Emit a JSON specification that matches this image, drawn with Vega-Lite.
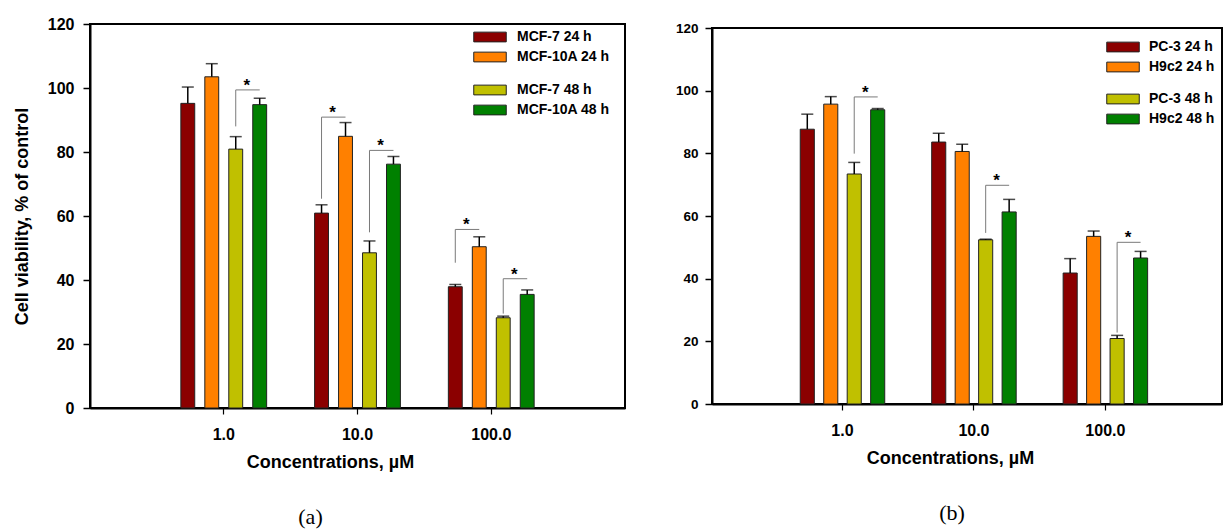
{
  "$schema": "https://vega.github.io/schema/vega-lite/v6.json",
  "background": "white",
  "padding": {"left": 12, "top": 15, "right": 0, "bottom": 0},
  "bounds": "flush",
  "center": true,
  "spacing": 87,
  "config": {
    "font": "Liberation Sans",
    "view": {"stroke": "black", "strokeWidth": 2},
    "axis": {"grid": false, "domainColor": "black", "domainWidth": 2, "tickColor": "black", "labelColor": "black", "titleColor": "black", "labelFontWeight": "bold", "titleFontWeight": "bold", "labelFont": "Liberation Sans", "titleFont": "Liberation Sans"},
    "legend": {"title": null, "orient": "none", "padding": 0, "symbolType": "M-2.5,-0.75H2.5V0.75H-2.5Z", "symbolSize": 169, "symbolStrokeColor": "#222", "symbolStrokeWidth": 1, "symbolOpacity": 1, "labelFont": "Liberation Sans", "labelFontWeight": "bold", "labelFontSize": 14, "labelColor": "black", "rowPadding": 6}
  },
  "datasets": {
    "barsA": [
      {"conc": "1.0", "series": "MCF-7 24 h", "value": 95.2, "upper": 100.3},
      {"conc": "1.0", "series": "MCF-10A 24 h", "value": 103.5, "upper": 107.6},
      {"conc": "1.0", "series": "MCF-7 48 h", "value": 80.9, "upper": 84.8},
      {"conc": "1.0", "series": "MCF-10A 48 h", "value": 94.8, "upper": 96.8},
      {"conc": "10.0", "series": "MCF-7 24 h", "value": 60.9, "upper": 63.5},
      {"conc": "10.0", "series": "MCF-10A 24 h", "value": 84.9, "upper": 89.2},
      {"conc": "10.0", "series": "MCF-7 48 h", "value": 48.5, "upper": 52.2},
      {"conc": "10.0", "series": "MCF-10A 48 h", "value": 76.2, "upper": 78.6},
      {"conc": "100.0", "series": "MCF-7 24 h", "value": 37.9, "upper": 38.6},
      {"conc": "100.0", "series": "MCF-10A 24 h", "value": 50.4, "upper": 53.5},
      {"conc": "100.0", "series": "MCF-7 48 h", "value": 28.2, "upper": 28.7},
      {"conc": "100.0", "series": "MCF-10A 48 h", "value": 35.5, "upper": 36.9}
    ],
    "bracketsA": [
      {"id": 1, "conc": "1.0", "from": "MCF-7 48 h", "to": "MCF-10A 48 h", "low": 88, "high": 99.4},
      {"id": 2, "conc": "10.0", "from": "MCF-7 24 h", "to": "MCF-10A 24 h", "low": 65.4, "high": 90.9},
      {"id": 3, "conc": "10.0", "from": "MCF-7 48 h", "to": "MCF-10A 48 h", "low": 54.9, "high": 80.5},
      {"id": 4, "conc": "100.0", "from": "MCF-7 24 h", "to": "MCF-10A 24 h", "low": 45.4, "high": 55.8},
      {"id": 5, "conc": "100.0", "from": "MCF-7 48 h", "to": "MCF-10A 48 h", "low": 29.5, "high": 40.4}
    ],
    "barsB": [
      {"conc": "1.0", "series": "PC-3 24 h", "value": 87.7, "upper": 92.5},
      {"conc": "1.0", "series": "H9c2 24 h", "value": 95.7, "upper": 98.1},
      {"conc": "1.0", "series": "PC-3 48 h", "value": 73.4, "upper": 77.1},
      {"conc": "1.0", "series": "H9c2 48 h", "value": 93.9, "upper": 94.3},
      {"conc": "10.0", "series": "PC-3 24 h", "value": 83.6, "upper": 86.4},
      {"conc": "10.0", "series": "H9c2 24 h", "value": 80.6, "upper": 82.9},
      {"conc": "10.0", "series": "PC-3 48 h", "value": 52.4, "upper": 52.6},
      {"conc": "10.0", "series": "H9c2 48 h", "value": 61.3, "upper": 65.3},
      {"conc": "100.0", "series": "PC-3 24 h", "value": 41.8, "upper": 46.4},
      {"conc": "100.0", "series": "H9c2 24 h", "value": 53.5, "upper": 55.2},
      {"conc": "100.0", "series": "PC-3 48 h", "value": 20.9, "upper": 21.9},
      {"conc": "100.0", "series": "H9c2 48 h", "value": 46.6, "upper": 48.7}
    ],
    "bracketsB": [
      {"id": 1, "conc": "1.0", "from": "PC-3 48 h", "to": "H9c2 48 h", "low": 79.9, "high": 98.0},
      {"id": 2, "conc": "10.0", "from": "PC-3 48 h", "to": "H9c2 48 h", "low": 54.6, "high": 69.8},
      {"id": 3, "conc": "100.0", "from": "PC-3 48 h", "to": "H9c2 48 h", "low": 22.8, "high": 51.6}
    ]
  },
  "hconcat": [
    {
      "width": 535,
      "height": 384,
      "title": {"text": "(a)", "orient": "bottom", "font": "Liberation Serif", "fontSize": 22, "fontWeight": "normal", "color": "black", "offset": 36, "dx": -47},
      "encoding": {
        "x": {"field": "conc", "type": "nominal", "scale": {"domain": ["1.0", "10.0", "100.0"], "paddingInner": 0, "paddingOuter": 0.5},
          "axis": {"title": "Concentrations, µM", "labelAngle": 0, "labelFontSize": 16, "titleFontSize": 18, "tickSize": 6, "tickWidth": 1.2, "labelPadding": 12, "titlePadding": 11, "titleX": 240}},
        "y": {"field": "value", "type": "quantitative", "scale": {"domain": [0, 120], "nice": false},
          "axis": {"title": "Cell viability, % of control", "values": [0, 20, 40, 60, 80, 100, 120], "labelFontSize": 16, "titleFontSize": 18, "tickSize": 7, "tickWidth": 1.5, "labelPadding": 9, "titlePadding": 16}}
      },
      "layer": [
        {
          "data": {"name": "barsA"},
          "transform": [{"filter": {"field": "series", "oneOf": ["MCF-7 24 h", "MCF-10A 24 h"]}}],
          "mark": {"type": "bar", "stroke": "#222", "strokeWidth": 1},
          "encoding": {
            "xOffset": {"field": "series", "type": "nominal", "scale": {"domain": ["MCF-7 24 h", "MCF-10A 24 h", "MCF-7 48 h", "MCF-10A 48 h"], "paddingInner": 0.42, "paddingOuter": 1.555}},
            "color": {"field": "series", "type": "nominal", "scale": {"domain": ["MCF-7 24 h", "MCF-10A 24 h"], "range": ["#8B0000", "#FF8000"]},
              "legend": {"legendX": 393, "legendY": 6, "labelOffset": 20}}
          }
        },
        {
          "data": {"name": "barsA"},
          "transform": [{"filter": {"field": "series", "oneOf": ["MCF-7 48 h", "MCF-10A 48 h"]}}],
          "mark": {"type": "bar", "stroke": "#222", "strokeWidth": 1},
          "encoding": {
            "xOffset": {"field": "series", "type": "nominal", "scale": {"domain": ["MCF-7 24 h", "MCF-10A 24 h", "MCF-7 48 h", "MCF-10A 48 h"], "paddingInner": 0.42, "paddingOuter": 1.555}},
            "fill": {"field": "series", "type": "nominal", "scale": {"domain": ["MCF-7 48 h", "MCF-10A 48 h"], "range": ["#C0C000", "#008000"]},
              "legend": {"legendX": 393, "legendY": 59, "labelOffset": 20}}
          }
        },
        {
          "data": {"name": "barsA"},
          "mark": {"type": "rule", "color": "black", "strokeWidth": 1.5},
          "encoding": {
            "xOffset": {"field": "series", "type": "nominal", "scale": {"domain": ["MCF-7 24 h", "MCF-10A 24 h", "MCF-7 48 h", "MCF-10A 48 h"], "paddingInner": 0.42, "paddingOuter": 1.555}},
            "y2": {"field": "upper"}
          }
        },
        {
          "data": {"name": "barsA"},
          "mark": {"type": "tick", "color": "black", "size": 12, "thickness": 1.5, "orient": "horizontal"},
          "encoding": {
            "xOffset": {"field": "series", "type": "nominal", "scale": {"domain": ["MCF-7 24 h", "MCF-10A 24 h", "MCF-7 48 h", "MCF-10A 48 h"], "paddingInner": 0.42, "paddingOuter": 1.555}},
            "y": {"field": "upper", "type": "quantitative"}
          }
        },
        {
          "data": {"name": "bracketsA"},
          "mark": {"type": "rule", "color": "#7a7a7a", "strokeWidth": 1},
          "encoding": {
            "xOffset": {"field": "from", "type": "nominal", "scale": {"domain": ["MCF-7 24 h", "MCF-10A 24 h", "MCF-7 48 h", "MCF-10A 48 h"], "paddingInner": 0.42, "paddingOuter": 1.555}},
            "y": {"field": "low", "type": "quantitative"},
            "y2": {"field": "high"}
          }
        },
        {
          "data": {"name": "bracketsA"},
          "transform": [{"fold": ["from", "to"], "as": ["end", "series"]}],
          "mark": {"type": "line", "color": "#7a7a7a", "strokeWidth": 1},
          "encoding": {
            "xOffset": {"field": "series", "type": "nominal", "scale": {"domain": ["MCF-7 24 h", "MCF-10A 24 h", "MCF-7 48 h", "MCF-10A 48 h"], "paddingInner": 0.42, "paddingOuter": 1.555}},
            "y": {"field": "high", "type": "quantitative"},
            "detail": {"field": "id", "type": "nominal"}
          }
        },
        {
          "data": {"name": "bracketsA"},
          "mark": {"type": "text", "text": "*", "font": "Liberation Sans", "fontWeight": "bold", "fontSize": 17, "color": "black", "baseline": "alphabetic", "dx": 11, "dy": 1},
          "encoding": {
            "xOffset": {"field": "from", "type": "nominal", "scale": {"domain": ["MCF-7 24 h", "MCF-10A 24 h", "MCF-7 48 h", "MCF-10A 48 h"], "paddingInner": 0.42, "paddingOuter": 1.555}},
            "y": {"field": "high", "type": "quantitative"}
          }
        }
      ]
    },
    {
      "width": 510,
      "height": 376,
      "title": {"text": "(b)", "orient": "bottom", "font": "Liberation Serif", "fontSize": 22, "fontWeight": "normal", "color": "black", "offset": 36, "dx": -15},
      "encoding": {
        "x": {"field": "conc", "type": "nominal", "scale": {"domain": ["1.0", "10.0", "100.0"], "paddingInner": 0, "paddingOuter": 0.44, "align": 0.56},
          "axis": {"title": "Concentrations, µM", "labelAngle": 0, "labelFontSize": 16, "titleFontSize": 18, "tickSize": 6, "tickWidth": 1.2, "labelPadding": 12, "titlePadding": 11, "titleX": 238}},
        "y": {"field": "value", "type": "quantitative", "scale": {"domain": [0, 120], "nice": false},
          "axis": {"title": null, "values": [0, 20, 40, 60, 80, 100, 120], "labelFontSize": 13.5, "tickSize": 7, "tickWidth": 1.5, "labelPadding": 7}}
      },
      "layer": [
        {
          "data": {"name": "barsB"},
          "transform": [{"filter": {"field": "series", "oneOf": ["PC-3 24 h", "H9c2 24 h"]}}],
          "mark": {"type": "bar", "stroke": "#222", "strokeWidth": 1},
          "encoding": {
            "xOffset": {"field": "series", "type": "nominal", "scale": {"domain": ["PC-3 24 h", "H9c2 24 h", "PC-3 48 h", "H9c2 48 h"], "paddingInner": 0.4, "paddingOuter": 1.5}},
            "color": {"field": "series", "type": "nominal", "scale": {"domain": ["PC-3 24 h", "H9c2 24 h"], "range": ["#8B0000", "#FF8000"]},
              "legend": {"legendX": 404, "legendY": 12, "labelOffset": 19}}
          }
        },
        {
          "data": {"name": "barsB"},
          "transform": [{"filter": {"field": "series", "oneOf": ["PC-3 48 h", "H9c2 48 h"]}}],
          "mark": {"type": "bar", "stroke": "#222", "strokeWidth": 1},
          "encoding": {
            "xOffset": {"field": "series", "type": "nominal", "scale": {"domain": ["PC-3 24 h", "H9c2 24 h", "PC-3 48 h", "H9c2 48 h"], "paddingInner": 0.4, "paddingOuter": 1.5}},
            "fill": {"field": "series", "type": "nominal", "scale": {"domain": ["PC-3 48 h", "H9c2 48 h"], "range": ["#C0C000", "#008000"]},
              "legend": {"legendX": 404, "legendY": 64, "labelOffset": 19}}
          }
        },
        {
          "data": {"name": "barsB"},
          "mark": {"type": "rule", "color": "black", "strokeWidth": 1.5},
          "encoding": {
            "xOffset": {"field": "series", "type": "nominal", "scale": {"domain": ["PC-3 24 h", "H9c2 24 h", "PC-3 48 h", "H9c2 48 h"], "paddingInner": 0.4, "paddingOuter": 1.5}},
            "y2": {"field": "upper"}
          }
        },
        {
          "data": {"name": "barsB"},
          "mark": {"type": "tick", "color": "black", "size": 12, "thickness": 1.5, "orient": "horizontal"},
          "encoding": {
            "xOffset": {"field": "series", "type": "nominal", "scale": {"domain": ["PC-3 24 h", "H9c2 24 h", "PC-3 48 h", "H9c2 48 h"], "paddingInner": 0.4, "paddingOuter": 1.5}},
            "y": {"field": "upper", "type": "quantitative"}
          }
        },
        {
          "data": {"name": "bracketsB"},
          "mark": {"type": "rule", "color": "#7a7a7a", "strokeWidth": 1},
          "encoding": {
            "xOffset": {"field": "from", "type": "nominal", "scale": {"domain": ["PC-3 24 h", "H9c2 24 h", "PC-3 48 h", "H9c2 48 h"], "paddingInner": 0.4, "paddingOuter": 1.5}},
            "y": {"field": "low", "type": "quantitative"},
            "y2": {"field": "high"}
          }
        },
        {
          "data": {"name": "bracketsB"},
          "transform": [{"fold": ["from", "to"], "as": ["end", "series"]}],
          "mark": {"type": "line", "color": "#7a7a7a", "strokeWidth": 1},
          "encoding": {
            "xOffset": {"field": "series", "type": "nominal", "scale": {"domain": ["PC-3 24 h", "H9c2 24 h", "PC-3 48 h", "H9c2 48 h"], "paddingInner": 0.4, "paddingOuter": 1.5}},
            "y": {"field": "high", "type": "quantitative"},
            "detail": {"field": "id", "type": "nominal"}
          }
        },
        {
          "data": {"name": "bracketsB"},
          "mark": {"type": "text", "text": "*", "font": "Liberation Sans", "fontWeight": "bold", "fontSize": 17, "color": "black", "baseline": "alphabetic", "dx": 11, "dy": 1},
          "encoding": {
            "xOffset": {"field": "from", "type": "nominal", "scale": {"domain": ["PC-3 24 h", "H9c2 24 h", "PC-3 48 h", "H9c2 48 h"], "paddingInner": 0.4, "paddingOuter": 1.5}},
            "y": {"field": "high", "type": "quantitative"}
          }
        }
      ]
    }
  ],
  "resolve": {
    "scale": {"x": "independent", "y": "independent", "xOffset": "independent", "color": "independent", "fill": "independent"},
    "axis": {"x": "independent", "y": "independent"},
    "legend": {"color": "independent", "fill": "independent"}
  }
}
